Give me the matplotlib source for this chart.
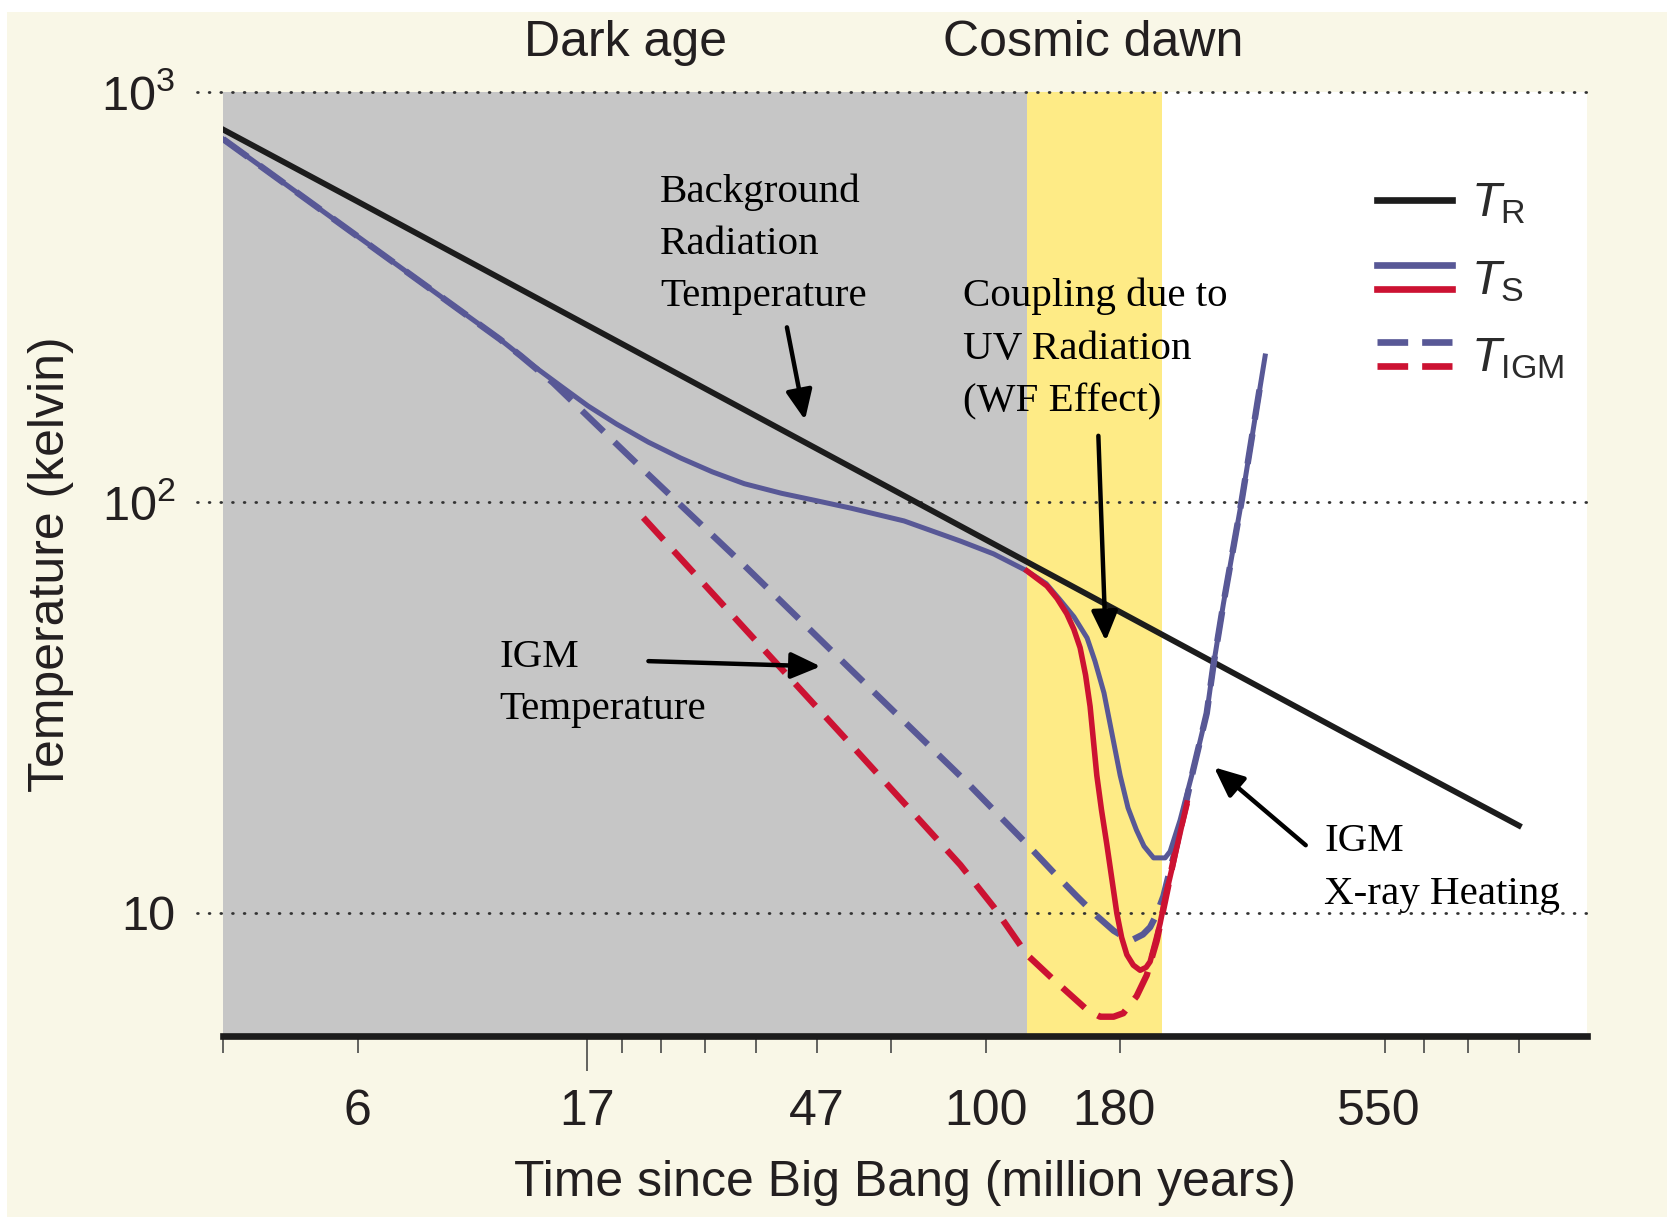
import matplotlib
matplotlib.use("Agg")
import matplotlib.pyplot as plt
import matplotlib.transforms as mtransforms
from matplotlib.lines import Line2D
from matplotlib.legend_handler import HandlerBase
from matplotlib.patches import Rectangle
from matplotlib.ticker import FixedLocator, NullFormatter, NullLocator

plt.rcParams['font.family'] = ['Liberation Sans', 'DejaVu Sans']
plt.rcParams['mathtext.fontset'] = 'custom'
plt.rcParams['mathtext.rm'] = 'Liberation Sans'
plt.rcParams['mathtext.it'] = 'Liberation Sans:italic'
plt.rcParams['mathtext.bf'] = 'Liberation Sans:bold'

# x is redshift (1+z) on a log axis, labelled by cosmic time
z_ticks = [200, 100, 50, 30, 20, 9]
time_labels = ['6', '17', '47', '100', '180', '550']
z_minor = [300, 90, 80, 70, 60, 40, 8, 7, 6]
z_range = (300.5, 4.89)
dark_age = (300.5, 26.5)
cosmic_dawn = (26.5, 17.6)

# background radiation temperature
z_rad = [300, 200, 100, 50, 30, 20, 10, 6]
t_rad = [808, 540, 270, 135, 81, 54, 27, 16.3]

# spin temperature, model 1 (blue)
z_spin_a = [300, 197.6, 130.2, 118.2, 107.4, 99.7, 91.5, 83.1, 75.4, 68.5,
            62.2, 55.6, 50.0, 45.1, 38.4, 32.4, 29.3, 26.5, 25.0, 24.0,
            23.0, 22.1, 21.58, 21.0, 20.5, 20.0, 19.53, 19.04, 18.61,
            18.08, 17.46, 17.2, 16.69, 16.03, 15.4, 15.09, 14.64, 13.85,
            12.91]
t_spin_a = [766, 437, 249.6, 216.3, 189.7, 171.5, 155.0, 140.0, 128.1, 118.5,
            110.9, 105.1, 100.8, 96.7, 90.0, 80.4, 74.8, 68.0, 63.3, 57.9,
            52.6, 46.7, 41.0, 34.3, 27.3, 21.6, 18.0, 15.9, 14.52,
            13.6, 13.6, 14.1, 16.8, 22.4, 30.6, 40.1, 56.7, 101.4,
            227]

# spin temperature, model 2 (red)
z_spin_b = [26.5, 24.95, 24.2, 23.5, 23.0, 22.57, 22.2, 21.9, 21.46, 21.16,
            20.82, 20.2, 19.91, 19.6, 19.22, 18.83, 18.49, 18.27, 17.97,
            17.73, 17.4, 17.02, 16.35]
t_spin_b = [68.0, 62.5, 58.3, 53.5, 49.0, 44.2, 37.9, 31.8, 21.6, 17.8,
            14.66, 9.96, 8.70, 7.90, 7.45, 7.24, 7.36, 7.60, 8.54,
            9.40, 11.17, 13.31, 18.5]

# gas (IGM) temperature, model 1 (blue)
z_igm_a = [300, 197.6, 130.2, 122.1, 110.9, 85.8, 62.2, 45.1, 31.8, 26.5,
           24.5, 22.8, 21.58, 20.4, 19.72, 19.22, 18.67, 18.27, 17.91,
           17.55, 17.23, 16.86, 16.03, 15.4, 15.09, 14.64, 13.85, 13.12]
t_igm_a = [766, 437, 249.6, 227, 195.5, 123.5, 70.1, 39.1, 20.8, 14.69,
           12.58, 10.97, 9.91, 9.04, 8.70, 8.61, 8.85, 9.22, 9.91,
           10.97, 12.58, 14.66, 22.4, 30.6, 40.1, 56.7, 101.4, 189.7]

# gas (IGM) temperature, model 2 (red)
z_igm_b = [84.4, 62.2, 45.1, 32.4, 29.3, 26.5, 24.5, 22.1, 21.25, 20.4,
           19.81, 19.03, 18.46, 17.91, 17.37, 16.86, 16.35]
t_igm_b = [91.7, 49.3, 25.7, 13.07, 10.33, 7.90, 6.89, 5.80, 5.58, 5.58,
           5.69, 6.26, 7.04, 8.54, 11.19, 14.66, 18.5]

CREAM = '#f9f7e7'
GRAY = '#c6c6c6'
YELLOW = '#feeb86'
BLACK = '#1c1c1c'
BLUE = '#585896'
RED = '#cc1232'
INK = '#231f20'


class StackedKeys(HandlerBase):
    """Legend key drawing its lines one above the other."""
    def create_artists(self, legend, orig_handle, xdescent, ydescent,
                       width, height, fontsize, trans):
        mid, gap = 12.0, 17.5
        n = len(orig_handle)
        arts = []
        for i, h in enumerate(orig_handle):
            y = mid + gap * ((n - 1) / 2 - i)
            ln = Line2D([-xdescent, width - xdescent], [y, y])
            ln.update_from(h)
            ln.set_transform(trans)
            arts.append(ln)
        return arts


fig = plt.figure(figsize=(16.67, 12.17), dpi=100, facecolor='white')
fig.add_artist(Rectangle((0.0042, 0), 0.9958, 0.9904, transform=fig.transFigure,
                         facecolor=CREAM, edgecolor='none', zorder=-10))

ax = fig.add_axes([0.1336, 0.1485, 0.8182, 0.7762])
ax.set_facecolor('white')
ax.set_xscale('log')
ax.set_yscale('log')
ax.set_xlim(*z_range)
ax.set_ylim(5, 1000)

ax.axvspan(*dark_age, color=GRAY, lw=0, zorder=0)
ax.axvspan(*cosmic_dawn, color=YELLOW, lw=0, zorder=0)
for v in [10, 100, 1000]:
    ax.axhline(v, xmin=-0.019, xmax=1, color='#333333', lw=2.0,
               ls=(0, (0.3, 3.9)), dash_capstyle='round', clip_on=False, zorder=1)

dash = (0, (4.7, 2.35))
ax.plot(z_rad, t_rad, color=BLACK, lw=4.2, zorder=3)
ax.plot(z_igm_a, t_igm_a, color=BLUE, lw=4.6, ls=dash, zorder=4)
ax.plot(z_igm_b, t_igm_b, color=RED, lw=4.6, ls=dash, zorder=4)
ax.plot(z_spin_a, t_spin_a, color=BLUE, lw=3.6, zorder=5)
ax.plot(z_spin_b, t_spin_b, color=RED, lw=4.0, zorder=6)

for s in ['top', 'left', 'right']:
    ax.spines[s].set_visible(False)
ax.spines['bottom'].set_linewidth(4.8)
ax.spines['bottom'].set_color(BLACK)

ax.set_xticks(z_ticks, labels=time_labels)
ax.xaxis.set_minor_locator(FixedLocator(z_minor))
ax.xaxis.set_minor_formatter(NullFormatter())
ax.tick_params(axis='x', which='both', direction='out', length=12, width=1.1,
               color='#3a3a3a', labelsize=36, pad=26, labelcolor=INK)
xticks = ax.xaxis.get_major_ticks()
xticks[1].tick1line.set_markersize(25)
# nudge the two right-hand labels a little to the left
for t in xticks[4:]:
    lab = t.label1
    lab.set_transform(lab.get_transform() +
                      mtransforms.ScaledTranslation(-0.06, 0, fig.dpi_scale_trans))

ax.set_yticks([10, 100, 1000],
              labels=['10', r'$\mathregular{10^2}$', r'$\mathregular{10^3}$'])
ax.yaxis.set_minor_locator(NullLocator())
ax.tick_params(axis='y', length=0, pad=34, labelsize=35, labelcolor=INK)

ax.set_xlabel('Time since Big Bang (million years)', fontsize=36, color=INK)
ax.xaxis.set_label_coords(0.5, -0.155)
ax.xaxis.label.set_va('center')
ax.set_ylabel('Temperature (kelvin)', fontsize=36, color=INK)
ax.yaxis.set_label_coords(-0.126, 0.5)
ax.yaxis.label.set_va('center')

top = mtransforms.blended_transform_factory(ax.transData, ax.transAxes)
ax.text(89.1, 1.052, 'Dark age', transform=top, ha='center', va='center',
        fontsize=36, color=INK)
ax.text(21.7, 1.052, 'Cosmic dawn', transform=top, ha='center', va='center',
        fontsize=36, color=INK)

serif = dict(family=['Liberation Serif', 'DejaVu Serif'], fontsize=29.5,
             color='black', ha='left', va='top', linespacing=1.55, zorder=8)
ax.text(80.2, 633, 'Background\nRadiation\nTemperature', **serif)
ax.text(32.1, 352, 'Coupling due to\nUV Radiation\n(WF Effect)', **serif)
ax.text(130.2, 46.4, 'IGM\nTemperature', **serif)
ax.text(10.8, 16.5, 'IGM\nX-ray Heating', **serif)

arrow = dict(arrowstyle='-|>,head_length=0.9,head_width=0.4', color='black',
             lw=3.2, mutation_scale=20, shrinkA=0, shrinkB=0)
ax.annotate('', xy=(51.8, 158.6), xytext=(54.7, 266.6), arrowprops=arrow, zorder=8)
ax.annotate('', xy=(20.89, 45.9), xytext=(21.36, 145.1), arrowprops=arrow, zorder=8)
ax.annotate('', xy=(49.4, 39.8), xytext=(83.1, 41.0), arrowprops=arrow, zorder=8)
ax.annotate('', xy=(15.06, 22.6), xytext=(11.42, 14.6), arrowprops=arrow, zorder=8)

key_dash = (0, (4.6, 2.1))
keys = [
    (Line2D([], [], color=BLACK, lw=4.8),),
    (Line2D([], [], color=BLUE, lw=4.8), Line2D([], [], color=RED, lw=4.8)),
    (Line2D([], [], color=BLUE, lw=4.8, ls=key_dash),
     Line2D([], [], color=RED, lw=4.8, ls=key_dash)),
]
names = [r'$\mathit{T}_{\mathrm{R}}$', r'$\mathit{T}_{\mathrm{S}}$',
         r'$\mathit{T}_{\mathrm{IGM}}$']
ax.legend(keys, names, handler_map={tuple: StackedKeys()}, loc='upper left',
          bbox_to_anchor=(0.8463, 0.9247), frameon=False, fontsize=35,
          handlelength=1.543, handleheight=2.063, handletextpad=0.4,
          labelspacing=0, borderpad=0, borderaxespad=0, labelcolor='#2b2b2b')

fig.savefig('out.png', dpi=100, facecolor=fig.get_facecolor())
